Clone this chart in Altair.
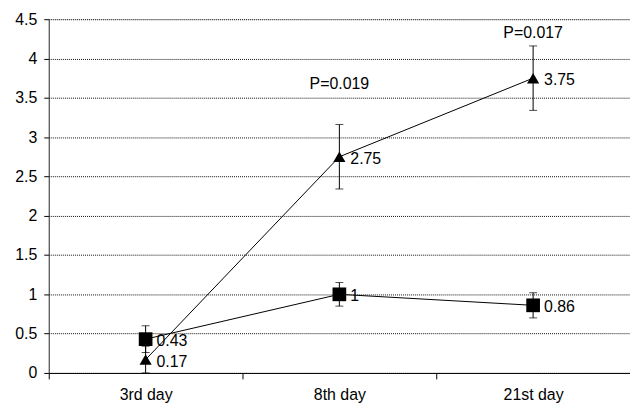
import altair as alt
import pandas as pd

days = ["3rd day", "8th day", "21st day"]
tri_vals = [0.17, 2.75, 3.75]
tri_err = [0.17, 0.41, 0.41]
sq_vals = [0.43, 1.0, 0.86]
sq_err = [0.17, 0.15, 0.16]
tri_labels = ["0.17", "2.75", "3.75"]
sq_labels = ["0.43", "1", "0.86"]
p_days = ["8th day", "21st day"]
p_vals = [3.67, 4.32]
p_texts = ["P=0.019", "P=0.017"]
y_ticks = [0, 0.5, 1, 1.5, 2, 2.5, 3, 3.5, 4, 4.5]

rows = []
for i, d in enumerate(days):
    rows.append(dict(day=d, series="tri", v=tri_vals[i], lo=max(0, tri_vals[i] - tri_err[i]),
                     hi=tri_vals[i] + tri_err[i], lab=tri_labels[i]))
    rows.append(dict(day=d, series="sq", v=sq_vals[i], lo=max(0, sq_vals[i] - sq_err[i]),
                     hi=sq_vals[i] + sq_err[i], lab=sq_labels[i]))
df = pd.DataFrame(rows)
pdf = pd.DataFrame(dict(day=p_days, v=p_vals, t=p_texts))

FONT = "Liberation Sans"
FS = 16
yscale = alt.Scale(domain=[0, 4.5], nice=False, zero=True)
yaxis = alt.Axis(values=y_ticks, format="~g", tickSize=5, tickColor="#000",
                 domainColor="#333", labelFont=FONT, labelFontSize=FS,
                 labelColor="#000", labelPadding=7, labelFlush=False,
                 labelOverlap=False, title=None,
                 grid=True, gridColor="#111", gridDash=[1, 1], gridWidth=1)

x = alt.X("day:N", sort=days, title=None,
          scale=alt.Scale(paddingInner=0, paddingOuter=0),
          axis=alt.Axis(labelAngle=0, tickBand="extent", tickSize=6, tickColor="#000",
                        domainColor="#000", labelFont=FONT, labelFontSize=FS,
                        labelColor="#000", labelPadding=8, grid=False))
y = alt.Y("v:Q", title=None, scale=yscale, axis=yaxis)
ylo = alt.Y("lo:Q", title=None, scale=yscale, axis=yaxis)
yhi = alt.Y("hi:Q", title=None, scale=yscale, axis=yaxis)

base = alt.Chart(df)

lines = base.mark_line(color="#000", strokeWidth=1).encode(x=x, y=y, detail="series:N")
rules = base.mark_rule(color="#000", strokeWidth=1).encode(x=x, y=ylo, y2="hi:Q")
cap_lo = base.mark_tick(color="#000", thickness=1, size=8).encode(x=x, y=ylo)
cap_hi = base.mark_tick(color="#000", thickness=1, size=8).encode(x=x, y=yhi)
tri = base.transform_filter(alt.datum.series == "tri").mark_point(
    shape="triangle-up", filled=True, color="#000", size=150, opacity=1).encode(x=x, y=y)
sq = base.transform_filter(alt.datum.series == "sq").mark_point(
    shape="square", filled=True, color="#000", size=190, opacity=1).encode(x=x, y=y)
labels = base.mark_text(align="left", baseline="middle", dx=11, dy=2, font=FONT,
                        fontSize=FS, color="#000").encode(x=x, y=y, text="lab:N")
plabels = alt.Chart(pdf).mark_text(align="center", baseline="middle", font=FONT,
                                    fontSize=FS, color="#000").encode(
    x=x, y=y, text="t:N")

chart = alt.layer(lines, rules, cap_lo, cap_hi, tri, sq, labels, plabels).properties(
    width=585, height=356,
    autosize=alt.AutoSizeParams(type="none"),
    padding={"left": 41, "top": 10, "right": 0, "bottom": 30},
).configure_view(stroke=None).configure(background="white")

chart.save("out.html", embed_options={"renderer": "svg", "actions": False})
